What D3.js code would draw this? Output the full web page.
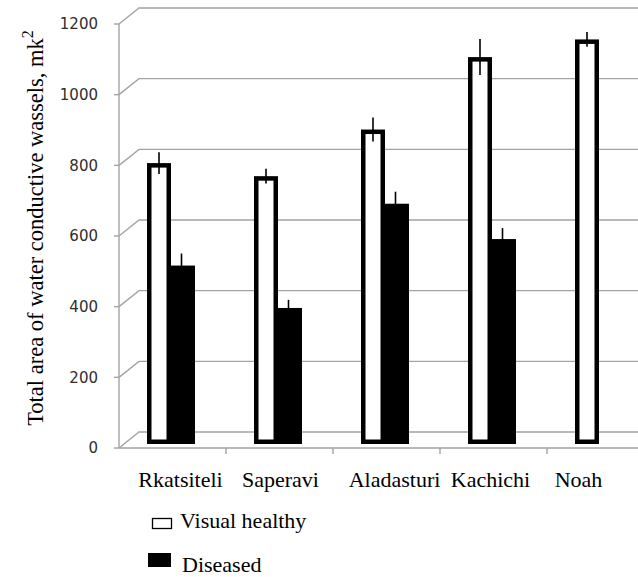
<!DOCTYPE html>
<html>
<head>
<meta charset="utf-8">
<script src="https://cdn.jsdelivr.net/npm/d3@7"></script>
<style>
  html, body { margin: 0; padding: 0; background: #fff; }
  svg { display: block; }
  .serif { font-family: "Liberation Serif", "Times New Roman", serif; }
  .sans { font-family: "DejaVu Sans", Verdana, sans-serif; }
</style>
</head>
<body>
<svg id="chart" width="638" height="577"></svg>
<script>
// Grape varieties and measured vessel area (mean ± error)
const categories = ["Rkatsiteli", "Saperavi", "Aladasturi", "Kachichi", "Noah"];
const healthyValues = [795, 758, 890, 1095, 1145];
const healthyErrors = [31, 21, 34, 51, 21];
const diseasedValues = [505, 385, 680, 580, null];
const diseasedErrors = [34, 23, 34, 31, null];
const yTicks = [0, 200, 400, 600, 800, 1000, 1200];
const seriesNames = ["Visual healthy", "Diseased"];

const svg = d3.select("#chart");

// Front plane of the pseudo-3D box
const left = 119, step = 107;
const depth = { dx: 20, dy: -16 };
const y = d3.scaleLinear().domain([0, 1200]).range([448, 24]);
// bars stand slightly behind the front plane
const yBar = d3.scaleLinear().domain([0, 1200]).range([444, 20]);
const x = d3.scaleBand().domain(categories).range([left, left + step * categories.length]).padding(0);

const grid = "#a3a3a3";
const gridG = svg.append("g").attr("stroke", grid).attr("stroke-width", 1.4).attr("fill", "none");

// side wall diagonals + back wall gridlines
yTicks.forEach(v => {
  const y0 = y(v);
  gridG.append("path")
    .attr("d", `M${left},${y0}L${left + depth.dx},${y0 + depth.dy}L638,${y0 + depth.dy}`);
  gridG.append("line").attr("x1", left - 5).attr("x2", left).attr("y1", y0).attr("y2", y0);
});
// front vertical axis and floor edge
gridG.append("line").attr("x1", left).attr("x2", left).attr("y1", y(1200)).attr("y2", y(0));
gridG.append("line").attr("x1", left).attr("x2", 638).attr("y1", y(0)).attr("y2", y(0));
categories.slice(1).forEach(c => {
  gridG.append("line").attr("x1", x(c)).attr("x2", x(c)).attr("y1", y(0)).attr("y2", y(0) + 6);
});

// y tick labels
svg.append("g").selectAll("text").data(yTicks).join("text")
  .attr("class", "sans")
  .attr("x", 98).attr("y", d => y(d)).attr("dy", "0.36em")
  .attr("text-anchor", "end")
  .attr("font-size", 15).attr("fill", "#2e2e2e")
  .text(d => d);

// bars
const hOff = 28, hW = 24, dOff = 49, dW = 27, border = 4.5;
const bars = svg.append("g");
categories.forEach((c, i) => {
  const hv = healthyValues[i];
  if (hv != null) {
    const bx = x(c) + hOff, top = yBar(hv), h = yBar(0) - top;
    bars.append("rect").attr("x", bx).attr("y", top).attr("width", hW).attr("height", h).attr("fill", "#000");
    bars.append("rect").attr("x", bx + border).attr("y", top + border)
      .attr("width", hW - 2 * border).attr("height", h - 2 * border).attr("fill", "#fff");
  }
  const dv = diseasedValues[i];
  if (dv != null) {
    const bx = x(c) + dOff, top = yBar(dv);
    bars.append("rect").attr("x", bx).attr("y", top).attr("width", dW).attr("height", yBar(0) - top).attr("fill", "#000");
  }
});

// error bars
const errG = svg.append("g").attr("stroke", "#000").attr("stroke-width", 1.6);
categories.forEach((c, i) => {
  if (healthyValues[i] != null) {
    const cx = x(c) + hOff + hW / 2;
    errG.append("line").attr("x1", cx).attr("x2", cx)
      .attr("y1", yBar(healthyValues[i] + healthyErrors[i])).attr("y2", yBar(healthyValues[i] - healthyErrors[i]));
  }
  if (diseasedValues[i] != null) {
    const cx = x(c) + dOff + dW / 2;
    errG.append("line").attr("x1", cx).attr("x2", cx)
      .attr("y1", yBar(diseasedValues[i] + diseasedErrors[i])).attr("y2", yBar(diseasedValues[i] - diseasedErrors[i]));
  }
});

// category labels (shifted a little from the band centres)
const labelShift = [8, 1, 8, -3, -22];
svg.append("g").selectAll("text").data(categories).join("text")
  .attr("class", "serif")
  .attr("x", (c, i) => x(c) + x.bandwidth() / 2 + labelShift[i])
  .attr("y", 487)
  .attr("text-anchor", "middle")
  .attr("font-size", 22).attr("fill", "#000")
  .text(c => c);

// y axis title
const title = svg.append("text")
  .attr("class", "serif")
  .attr("transform", "translate(43,228) rotate(-90)")
  .attr("text-anchor", "middle")
  .attr("font-size", 22.5).attr("fill", "#000");
title.append("tspan").text("Total area of water conductive wassels,  mk");
title.append("tspan").attr("dy", -10).attr("font-size", 16).text("2");

// legend
const legend = svg.append("g");
legend.append("rect").attr("x", 152.5).attr("y", 518.5).attr("width", 19).attr("height", 10)
  .attr("fill", "#fff").attr("stroke", "#000").attr("stroke-width", 1.3);
legend.append("text").attr("class", "serif").attr("font-size", 22)
  .attr("x", 180).attr("y", 528).text(seriesNames[0]);
legend.append("rect").attr("x", 148).attr("y", 553).attr("width", 23).attr("height", 14).attr("fill", "#000");
legend.append("text").attr("class", "serif").attr("font-size", 22)
  .attr("x", 182).attr("y", 572).text(seriesNames[1]);
</script>
</body>
</html>
